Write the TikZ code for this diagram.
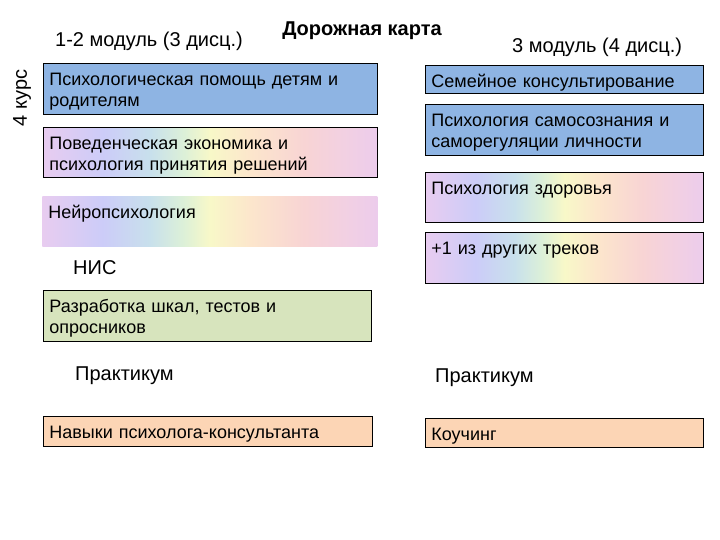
\documentclass[tikz,border=0pt]{standalone}
\usepackage{fontspec}
\setmainfont{Liberation Sans}

\definecolor{cardblue}{HTML}{8EB4E3}
\definecolor{cardgreen}{HTML}{D7E4BD}
\definecolor{cardpeach}{HTML}{FCD5B5}
% rainbow fill
\definecolor{rb0}{HTML}{E8CCF0}
\definecolor{rb1}{HTML}{CCCCF8}
\definecolor{rb2}{HTML}{C8E0EC}
\definecolor{rb3}{HTML}{DCF0D8}
\definecolor{rb4}{HTML}{F8F8C8}
\definecolor{rb5}{HTML}{FCE6CC}
\definecolor{rb6}{HTML}{F8D4D4}
\definecolor{rb7}{HTML}{F2D0E2}
\definecolor{rb8}{HTML}{ECCCEC}
% tikz maps 25bp..75bp onto the path
\pgfdeclarehorizontalshading{rainbow}{100bp}{color(0bp)=(rb0); color(25bp)=(rb0);
  color(34bp)=(rb1); color(41bp)=(rb2); color(46bp)=(rb3); color(50bp)=(rb4);
  color(56bp)=(rb5); color(64bp)=(rb6); color(70bp)=(rb7); color(75bp)=(rb8);
  color(100bp)=(rb8)}

\begin{document}
\begin{tikzpicture}[x=1pt,y=-1pt,
  card/.style={draw=black, line width=0.8pt, anchor=north west, inner xsep=6pt,
    inner ysep=0pt, text height=22pt, align=left, font=\fontsize{18}{21}\selectfont},
  label/.style={anchor=base west, inner sep=0pt, font=\fontsize{20}{24}\selectfont}]
\useasboundingbox (0,0) rectangle (720,540);

\node[anchor=base, inner sep=0pt, font=\bfseries\fontsize{20}{24}\selectfont] (title) at (362,36) {Дорожная карта};
\node[label] (modA) at (55,47) {1-2 модуль (3 дисц.)};
\node[label] (modB) at (512,53) {3 модуль (4 дисц.)};
\node[font=\fontsize{20}{24}\selectfont, rotate=90] (kurs) at (22,98) {4 курс};

% left column
\node[card, fill=cardblue, text width=322pt, text depth=29pt] (helpKids) at (43,63)
  {Психологическая помощь детям и родителям};
\node[card, shading=rainbow, text width=322pt, text depth=28pt] (behavEcon) at (43,127)
  {Поведенческая экономика и психология принятия решений};
\node[card, draw=none, shading=rainbow, text width=323pt, text depth=28pt] (neuro) at (42,196)
  {Нейропсихология};
\node[label] (nis) at (73,274) {НИС};
\node[card, fill=cardgreen, text width=316pt, text depth=29pt] (scales) at (43,290)
  {Разработка шкал, тестов и опросников};
\node[label] (pracA) at (75,380) {Практикум};
\node[card, fill=cardpeach, text width=317pt, text depth=8pt] (skills) at (43,416)
  {Навыки психолога-консультанта};

% right column
\node[card, fill=cardblue, text width=266pt, text depth=6pt] (family) at (425,65)
  {Семейное консультирование};
\node[card, fill=cardblue, text width=266pt, text depth=29pt] (selfReg) at (425,104)
  {Психология самосознания и саморегуляции личности};
\node[card, shading=rainbow, text width=266pt, text depth=28pt] (health) at (425,172)
  {Психология здоровья};
\node[card, shading=rainbow, text width=266pt, text depth=29pt] (otherTrack) at (425,232)
  {+1 из других треков};
\node[label] (pracB) at (435,382) {Практикум};
\node[card, fill=cardpeach, text width=266pt, text depth=7pt] (coaching) at (425,418)
  {Коучинг};
\end{tikzpicture}
\end{document}
